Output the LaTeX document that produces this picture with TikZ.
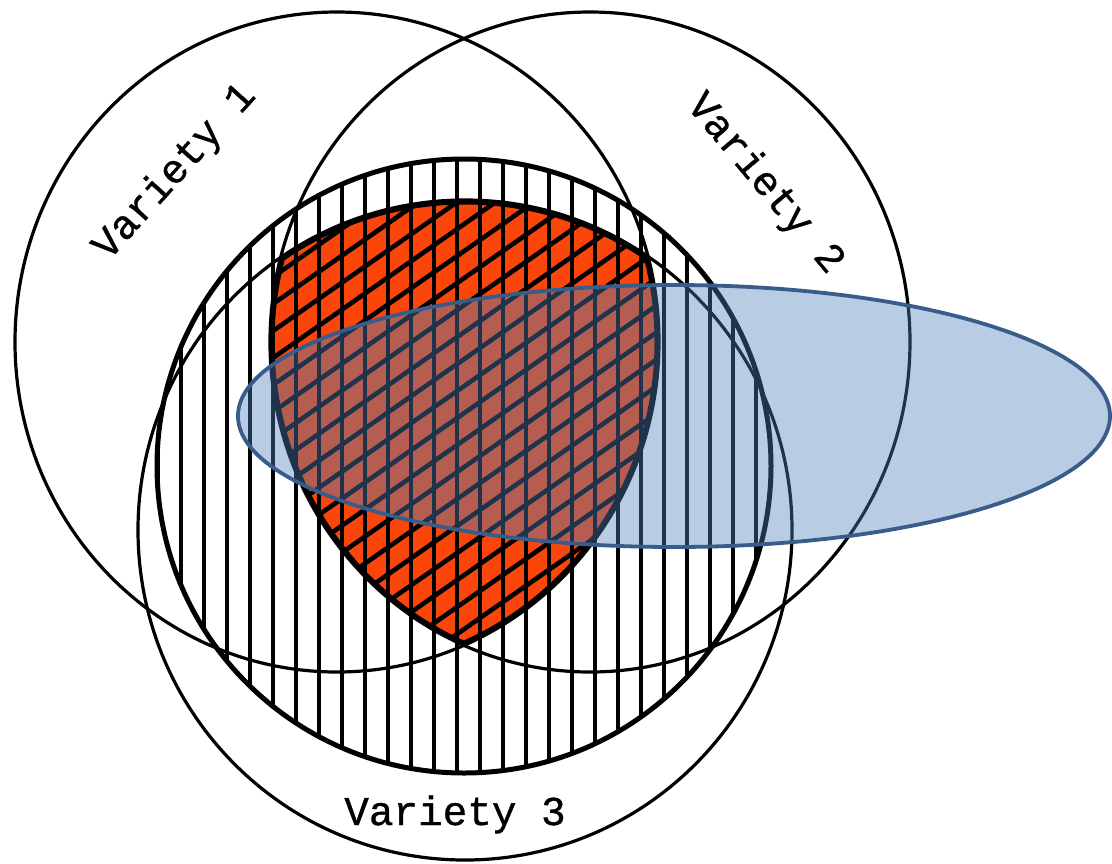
\documentclass[tikz,border=0pt]{standalone}
\usepackage{fontspec}
\newfontfamily\typew[FakeBold=0.8]{Liberation Mono}
\definecolor{orng}{RGB}{250,70,10}
\definecolor{ellfill}{RGB}{79,129,189}
\definecolor{elldraw}{RGB}{56,93,138}
\tikzset{
  thincirc/.style={line width=3.2pt},
  boldcirc/.style={line width=5pt},
  hatchline/.style={line width=4.8pt},
  diagline/.style={line width=4.6pt},
  varlabel/.style={font=\fontsize{41}{41}\selectfont\typew, inner sep=0pt},
  blueell/.style={fill=ellfill, fill opacity=0.4, draw=elldraw, draw opacity=1, line width=3.8pt}
}
\begin{document}
\begin{tikzpicture}[x=1pt,y=-1pt]
\useasboundingbox (0,0) rectangle (1112,863);
\fill[white] (0,0) rectangle (1112,863);
\coordinate (c1) at (337,342);
\coordinate (c2) at (590,342);
\coordinate (c3) at (465,530);
\coordinate (ch) at (464,466);
\coordinate (ce) at (674,416);

% orange triple intersection
\begin{scope}
  \clip (c1) ellipse [x radius=322, y radius=330];
  \clip (c2) ellipse [x radius=320, y radius=330];
  \clip (c3) ellipse [x radius=327, y radius=330];
  \fill[orng] (150,150) rectangle (800,700);
\end{scope}

% vertical hatching
\begin{scope}
  \clip (ch) circle [radius=307];
  \foreach \k in {6,...,33} {
    \draw[hatchline] ({20+23*\k},150) -- ({20+23*\k},790);
  }
\end{scope}

% diagonal hatching in the orange region
\begin{scope}
  \clip (c1) ellipse [x radius=322, y radius=330];
  \clip (c2) ellipse [x radius=320, y radius=330];
  \clip (c3) ellipse [x radius=327, y radius=330];
  \foreach \i in {0,...,29} {
    \draw[diagline] (200,{360+27*\i-0.7*200}) -- (750,{360+27*\i-0.7*750});
  }
  % bold outline of the orange region
  \draw[line width=9pt] (c1) ellipse [x radius=322, y radius=330];
  \draw[line width=9pt] (c2) ellipse [x radius=320, y radius=330];
  \draw[line width=9pt] (c3) ellipse [x radius=327, y radius=330];
\end{scope}

% three variety circles
\draw[thincirc] (c1) ellipse [x radius=322, y radius=330];
\draw[thincirc] (c2) ellipse [x radius=320, y radius=330];
\draw[thincirc] (c3) ellipse [x radius=327, y radius=330];

% hatched circle outline
\draw[boldcirc] (ch) circle [radius=307];

% labels
\node[varlabel, rotate=48] (v1) at (175,172) {Variety 1};
\node[varlabel, rotate=-50] (v2) at (765,184) {Variety 2};
\node[varlabel, anchor=base] (v3) at (455,825) {Variety 3};

% blue ellipse
\path[blueell] (ce) ellipse [x radius=436, y radius=131];
\end{tikzpicture}
\end{document}
